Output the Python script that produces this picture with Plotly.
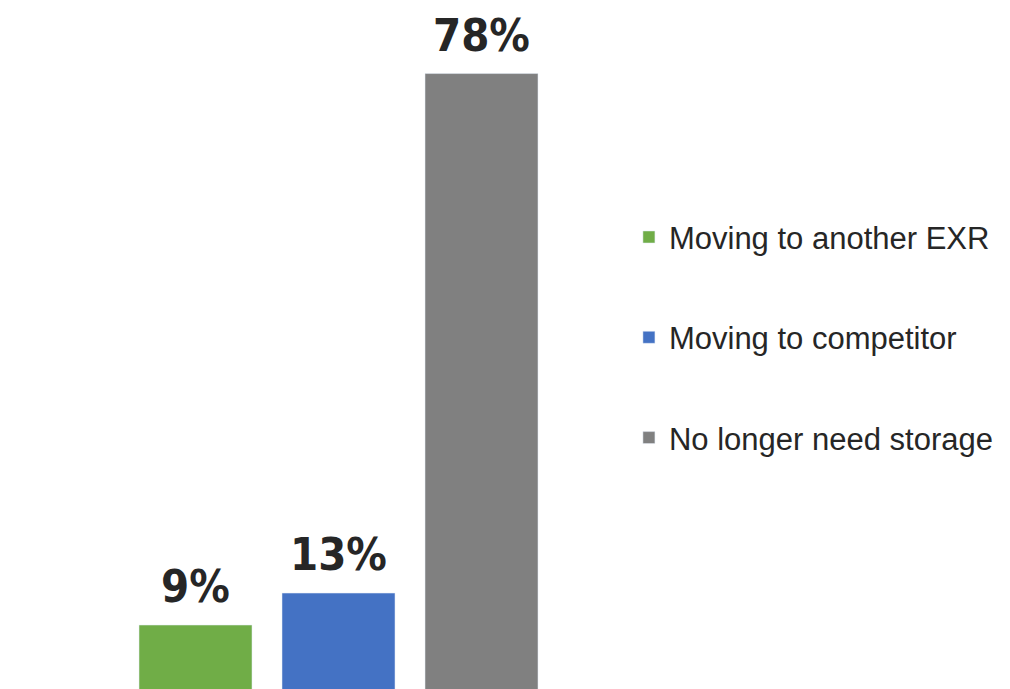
import plotly.graph_objects as go

# Reasons for leaving
categories = ['Moving to another EXR', 'Moving to competitor', 'No longer need storage']
values = [9, 13, 78]
labels = ['9%', '13%', '78%']
colors = ['#70AD47', '#4472C4', '#808080']

fig = go.Figure()
for i, (cat, val, col) in enumerate(zip(categories, values, colors)):
    fig.add_trace(go.Bar(x=[cat], y=[val], name=cat, marker_color=col,
                         legendgroup=str(i), hoverinfo='skip'))
    fig.add_annotation(x=cat, y=val, text=labels[i], showarrow=False,
                       yanchor='bottom', yshift=11, borderpad=0,
                       font=dict(family='DejaVu Sans Condensed',
                                 size=45, color='#262626', weight='bold'))

fig.update_layout(
    width=1010, height=689,
    margin=dict(l=116, r=465, t=0, b=0),
    barmode='overlay',
    bargap=0.21,
    plot_bgcolor='white',
    paper_bgcolor='white',
    showlegend=True,
    legend=dict(x=1.177, xanchor='left', y=0.522, yanchor='middle',
                traceorder='grouped', tracegroupgap=57,
                font=dict(family='Liberation Sans, Arial', size=31, color='#262626')),
    xaxis=dict(visible=False),
    yaxis=dict(visible=False, range=[0, 86.2]),
)

fig.write_html("out.html")
